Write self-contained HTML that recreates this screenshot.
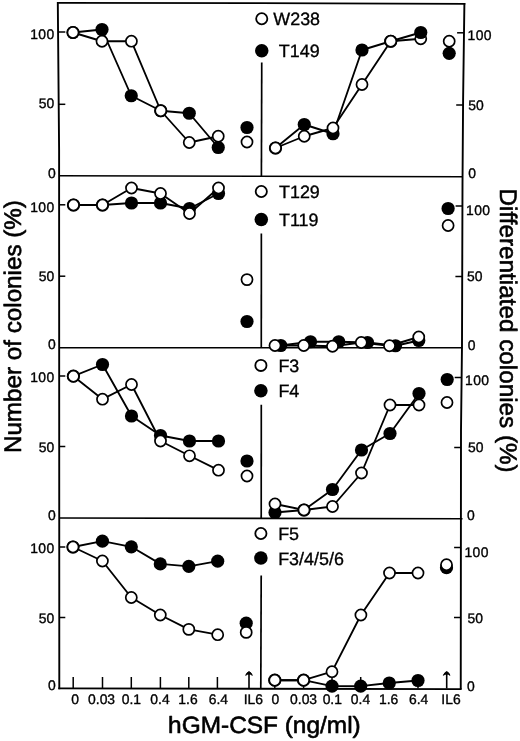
<!DOCTYPE html>
<html><head><meta charset="utf-8"><title>Figure</title>
<style>
html,body{margin:0;padding:0;background:#fff;}
body{width:520px;height:741px;overflow:hidden;font-family:"Liberation Sans", sans-serif;}
svg{display:block;will-change:transform;}
text{text-rendering:geometricPrecision;stroke:#000;stroke-width:0.35px;stroke-linejoin:round;}
</style></head><body>
<svg width="520" height="741" viewBox="0 0 520 741" font-family='"Liberation Sans", sans-serif' fill="#000">
<rect width="520" height="741" fill="#fff"/>
<polyline points="57.8,2.0 59.1,150 59.3,689.2" fill="none" stroke="#000" stroke-width="1.9"/>
<polyline points="58.1,2.9 260,3.2 465.3,3.9" fill="none" stroke="#000" stroke-width="1.7"/>
<polyline points="464.4,3 463.1,100 462.5,185 462,345 461,430 460.75,689.3" fill="none" stroke="#000" stroke-width="1.9"/>
<polyline points="58.3,688.4 461.6,689.1" fill="none" stroke="#000" stroke-width="1.8"/>
<line x1="59" y1="175.8" x2="462.5" y2="176.8" stroke="#000" stroke-width="1.6"/>
<line x1="59" y1="347.8" x2="462.5" y2="347.7" stroke="#000" stroke-width="1.6"/>
<line x1="59" y1="518.0" x2="462.5" y2="518.8" stroke="#000" stroke-width="1.6"/>
<line x1="261.75" y1="62.5" x2="261.4" y2="176.0" stroke="#000" stroke-width="1.7"/>
<line x1="261.35" y1="233.5" x2="261.3" y2="347.7" stroke="#000" stroke-width="1.7"/>
<line x1="261.3" y1="404.8" x2="261.2" y2="518.4" stroke="#000" stroke-width="1.7"/>
<line x1="261.2" y1="575.4" x2="260.8" y2="688.5" stroke="#000" stroke-width="1.7"/>
<line x1="59" y1="32" x2="65.3" y2="32" stroke="#000" stroke-width="1.5"/>
<line x1="59" y1="104.3" x2="65.3" y2="104.3" stroke="#000" stroke-width="1.5"/>
<line x1="59" y1="204.8" x2="65.3" y2="204.8" stroke="#000" stroke-width="1.5"/>
<line x1="59" y1="276.2" x2="65.3" y2="276.2" stroke="#000" stroke-width="1.5"/>
<line x1="59" y1="376" x2="65.3" y2="376" stroke="#000" stroke-width="1.5"/>
<line x1="59" y1="446.5" x2="65.3" y2="446.5" stroke="#000" stroke-width="1.5"/>
<line x1="59" y1="547" x2="65.3" y2="547" stroke="#000" stroke-width="1.5"/>
<line x1="59" y1="617.5" x2="65.3" y2="617.5" stroke="#000" stroke-width="1.5"/>
<text x="54.60" y="38.80" font-size="13.9" text-anchor="end" letter-spacing="0.4">100</text>
<text x="54.20" y="108.30" font-size="13.9" text-anchor="end" >50</text>
<text x="54.60" y="211.80" font-size="13.9" text-anchor="end" letter-spacing="0.4">100</text>
<text x="54.20" y="280.50" font-size="13.9" text-anchor="end" >50</text>
<text x="54.60" y="382.30" font-size="13.9" text-anchor="end" letter-spacing="0.4">100</text>
<text x="54.20" y="451.80" font-size="13.9" text-anchor="end" >50</text>
<text x="54.60" y="553.30" font-size="13.9" text-anchor="end" letter-spacing="0.4">100</text>
<text x="54.20" y="622.80" font-size="13.9" text-anchor="end" >50</text>
<text x="55.80" y="177.80" font-size="13.9" text-anchor="end" >0</text>
<text x="55.80" y="349.00" font-size="13.9" text-anchor="end" >0</text>
<text x="55.80" y="519.80" font-size="13.9" text-anchor="end" >0</text>
<text x="55.80" y="690.30" font-size="13.9" text-anchor="end" >0</text>
<line x1="457.09999999999997" y1="32.8" x2="463.9" y2="32.8" stroke="#000" stroke-width="1.5"/>
<line x1="456.2" y1="105" x2="463" y2="105" stroke="#000" stroke-width="1.5"/>
<line x1="455.59999999999997" y1="206" x2="462.4" y2="206" stroke="#000" stroke-width="1.5"/>
<line x1="455.4" y1="276.5" x2="462.2" y2="276.5" stroke="#000" stroke-width="1.5"/>
<line x1="454.7" y1="377.5" x2="461.5" y2="377.5" stroke="#000" stroke-width="1.5"/>
<line x1="454.2" y1="447.5" x2="461" y2="447.5" stroke="#000" stroke-width="1.5"/>
<line x1="454.09999999999997" y1="547.5" x2="460.9" y2="547.5" stroke="#000" stroke-width="1.5"/>
<line x1="454.0" y1="617.5" x2="460.8" y2="617.5" stroke="#000" stroke-width="1.5"/>
<text x="467.50" y="40.40" font-size="13.9" text-anchor="start" letter-spacing="0.4">100</text>
<text x="468.30" y="109.90" font-size="13.9" text-anchor="start" >50</text>
<text x="468.30" y="178.40" font-size="13.9" text-anchor="start" >0</text>
<text x="466.00" y="215.10" font-size="13.9" text-anchor="start" letter-spacing="0.4">100</text>
<text x="467.10" y="281.30" font-size="13.9" text-anchor="start" >50</text>
<text x="467.80" y="350.30" font-size="13.9" text-anchor="start" >0</text>
<text x="465.00" y="384.50" font-size="13.9" text-anchor="start" letter-spacing="0.4">100</text>
<text x="468.00" y="452.10" font-size="13.9" text-anchor="start" >50</text>
<text x="467.00" y="520.10" font-size="13.9" text-anchor="start" >0</text>
<text x="464.40" y="557.10" font-size="13.9" text-anchor="start" letter-spacing="0.4">100</text>
<text x="467.50" y="622.50" font-size="13.9" text-anchor="start" >50</text>
<text x="467.00" y="691.10" font-size="13.9" text-anchor="start" >0</text>
<line x1="73.2" y1="677" x2="73.2" y2="688.5" stroke="#000" stroke-width="1.5"/>
<line x1="102.5" y1="677" x2="102.5" y2="688.5" stroke="#000" stroke-width="1.5"/>
<line x1="131.29999999999998" y1="677" x2="131.29999999999998" y2="688.5" stroke="#000" stroke-width="1.5"/>
<line x1="160.39999999999998" y1="677" x2="160.39999999999998" y2="688.5" stroke="#000" stroke-width="1.5"/>
<line x1="188.79999999999998" y1="677" x2="188.79999999999998" y2="688.5" stroke="#000" stroke-width="1.5"/>
<line x1="217.39999999999998" y1="677" x2="217.39999999999998" y2="688.5" stroke="#000" stroke-width="1.5"/>
<line x1="274.8" y1="677" x2="274.8" y2="688.5" stroke="#000" stroke-width="1.5"/>
<line x1="303.6" y1="677" x2="303.6" y2="688.5" stroke="#000" stroke-width="1.5"/>
<line x1="332.0" y1="677" x2="332.0" y2="688.5" stroke="#000" stroke-width="1.5"/>
<line x1="360.7" y1="677" x2="360.7" y2="688.5" stroke="#000" stroke-width="1.5"/>
<line x1="389.3" y1="677" x2="389.3" y2="688.5" stroke="#000" stroke-width="1.5"/>
<line x1="418.0" y1="677" x2="418.0" y2="688.5" stroke="#000" stroke-width="1.5"/>
<line x1="249.0" y1="672.3" x2="249.0" y2="688.5" stroke="#000" stroke-width="1.6"/>
<path d="M245.7,675.3 Q247.0,672.1 249.0,671.6 Q251.0,672.1 252.3,675.3 Q250.6,674.0 249.0,674.0 Q247.4,674.0 245.7,675.3 Z" fill="#000" stroke="#000" stroke-width="1.0" stroke-linejoin="round"/>
<line x1="446.7" y1="672.3" x2="446.7" y2="688.5" stroke="#000" stroke-width="1.6"/>
<path d="M443.4,675.3 Q444.7,672.1 446.7,671.6 Q448.7,672.1 450.0,675.3 Q448.3,674.0 446.7,674.0 Q445.09999999999997,674.0 443.4,675.3 Z" fill="#000" stroke="#000" stroke-width="1.0" stroke-linejoin="round"/>
<text x="75.00" y="703.80" font-size="13.9" text-anchor="middle" >0</text>
<text x="101.60" y="703.80" font-size="13.9" text-anchor="middle" >0.03</text>
<text x="131.40" y="703.80" font-size="13.9" text-anchor="middle" >0.1</text>
<text x="160.00" y="703.80" font-size="13.9" text-anchor="middle" >0.4</text>
<text x="188.00" y="703.80" font-size="13.9" text-anchor="middle" >1.6</text>
<text x="218.40" y="703.80" font-size="13.9" text-anchor="middle" >6.4</text>
<text x="253.30" y="703.80" font-size="13.9" text-anchor="middle" >IL6</text>
<text x="275.30" y="703.80" font-size="13.9" text-anchor="middle" >0</text>
<text x="303.60" y="703.80" font-size="13.9" text-anchor="middle" >0.03</text>
<text x="332.30" y="703.80" font-size="13.9" text-anchor="middle" >0.1</text>
<text x="360.50" y="703.80" font-size="13.9" text-anchor="middle" >0.4</text>
<text x="388.60" y="703.80" font-size="13.9" text-anchor="middle" >1.6</text>
<text x="418.70" y="703.80" font-size="13.9" text-anchor="middle" >6.4</text>
<text x="451.00" y="703.80" font-size="13.9" text-anchor="middle" >IL6</text>
<text x="0.00" y="0.00" font-size="23.5" text-anchor="middle" transform="translate(264.4,732.5)" textLength="192.6" lengthAdjust="spacingAndGlyphs" style="stroke-width:0.6px">hGM-CSF (ng/ml)</text>
<text x="0.00" y="0.00" font-size="24" text-anchor="middle" transform="translate(21,326.6) rotate(-90)" textLength="253" lengthAdjust="spacingAndGlyphs" style="stroke-width:0.6px">Number of colonies (%)</text>
<text x="0.00" y="0.00" font-size="24" text-anchor="middle" transform="translate(499.6,330.6) rotate(90)" textLength="284" lengthAdjust="spacingAndGlyphs" style="stroke-width:0.6px">Differentiated colonies (%)</text>
<circle cx="261.75" cy="18.75" r="5.6" fill="#fff" stroke="#000" stroke-width="1.8"/>
<text x="273.30" y="25.10" font-size="17.9" text-anchor="start" >W238</text>
<circle cx="261.75" cy="50.75" r="6.75" fill="#000"/>
<text x="278.80" y="57.10" font-size="17.9" text-anchor="start" >T149</text>
<circle cx="261.3" cy="191.5" r="5.6" fill="#fff" stroke="#000" stroke-width="1.8"/>
<text x="279.00" y="198.00" font-size="17.9" text-anchor="start" >T129</text>
<circle cx="261.3" cy="219.6" r="6.75" fill="#000"/>
<text x="279.00" y="226.30" font-size="17.9" text-anchor="start" >T119</text>
<circle cx="260.9" cy="365.4" r="5.6" fill="#fff" stroke="#000" stroke-width="1.8"/>
<text x="278.40" y="372.20" font-size="17.9" text-anchor="start" >F3</text>
<circle cx="260.9" cy="390.8" r="6.75" fill="#000"/>
<text x="278.40" y="397.20" font-size="17.9" text-anchor="start" >F4</text>
<circle cx="260.9" cy="533.5" r="5.6" fill="#fff" stroke="#000" stroke-width="1.8"/>
<text x="278.20" y="539.90" font-size="17.9" text-anchor="start" >F5</text>
<circle cx="260.9" cy="558.1" r="6.75" fill="#000"/>
<text x="278.20" y="564.90" font-size="17.9" text-anchor="start" >F3/4/5/6</text>
<polyline points="73.00,32.50 102.00,29.50 131.25,95.75 160.75,110.75 189.25,113.25 218.25,147.50" fill="none" stroke="#000" stroke-width="1.85" stroke-linejoin="round"/>
<polyline points="73.00,32.50 102.00,41.25 131.40,41.20 160.75,110.75 189.25,142.50 218.25,136.25" fill="none" stroke="#000" stroke-width="1.85" stroke-linejoin="round"/>
<circle cx="73.00" cy="32.50" r="6.6" fill="#000"/>
<circle cx="102.00" cy="29.50" r="6.6" fill="#000"/>
<circle cx="131.25" cy="95.75" r="6.6" fill="#000"/>
<circle cx="160.75" cy="110.75" r="6.6" fill="#000"/>
<circle cx="189.25" cy="113.25" r="6.6" fill="#000"/>
<circle cx="218.25" cy="147.50" r="6.6" fill="#000"/>
<circle cx="247.00" cy="127.50" r="6.6" fill="#000"/>
<circle cx="73.00" cy="32.50" r="5.55" fill="#fff" stroke="#000" stroke-width="1.7"/>
<circle cx="102.00" cy="41.25" r="5.55" fill="#fff" stroke="#000" stroke-width="1.7"/>
<circle cx="131.40" cy="41.20" r="5.55" fill="#fff" stroke="#000" stroke-width="1.7"/>
<circle cx="160.75" cy="110.75" r="5.55" fill="#fff" stroke="#000" stroke-width="1.7"/>
<circle cx="189.25" cy="142.50" r="5.55" fill="#fff" stroke="#000" stroke-width="1.7"/>
<circle cx="218.25" cy="136.25" r="5.55" fill="#fff" stroke="#000" stroke-width="1.7"/>
<circle cx="247.00" cy="142.00" r="5.55" fill="#fff" stroke="#000" stroke-width="1.7"/>
<polyline points="275.50,148.00 304.25,124.50 333.00,133.75 362.00,50.00 390.75,41.25 420.75,32.50" fill="none" stroke="#000" stroke-width="1.85" stroke-linejoin="round"/>
<polyline points="275.50,148.00 304.25,136.25 333.00,128.00 362.00,84.50 390.75,41.25 420.75,38.75" fill="none" stroke="#000" stroke-width="1.85" stroke-linejoin="round"/>
<circle cx="275.50" cy="148.00" r="6.6" fill="#000"/>
<circle cx="304.25" cy="124.50" r="6.6" fill="#000"/>
<circle cx="333.00" cy="133.75" r="6.6" fill="#000"/>
<circle cx="362.00" cy="50.00" r="6.6" fill="#000"/>
<circle cx="390.75" cy="41.25" r="6.6" fill="#000"/>
<circle cx="275.50" cy="148.00" r="5.55" fill="#fff" stroke="#000" stroke-width="1.7"/>
<circle cx="304.25" cy="136.25" r="5.55" fill="#fff" stroke="#000" stroke-width="1.7"/>
<circle cx="333.00" cy="128.00" r="5.55" fill="#fff" stroke="#000" stroke-width="1.7"/>
<circle cx="362.00" cy="84.50" r="5.55" fill="#fff" stroke="#000" stroke-width="1.7"/>
<circle cx="390.75" cy="41.25" r="5.55" fill="#fff" stroke="#000" stroke-width="1.7"/>
<circle cx="420.75" cy="38.75" r="5.55" fill="#fff" stroke="#000" stroke-width="1.7"/>
<circle cx="449.20" cy="41.20" r="5.55" fill="#fff" stroke="#000" stroke-width="1.7"/>
<circle cx="420.75" cy="32.50" r="6.6" fill="#000"/>
<circle cx="449.20" cy="53.30" r="6.6" fill="#000"/>
<polyline points="73.50,205.00 102.50,205.00 131.50,203.00 160.50,203.00 189.50,208.50 218.50,193.50" fill="none" stroke="#000" stroke-width="1.85" stroke-linejoin="round"/>
<polyline points="73.50,205.00 102.50,205.00 131.50,188.00 160.50,193.50 189.50,213.50 218.50,188.00" fill="none" stroke="#000" stroke-width="1.85" stroke-linejoin="round"/>
<circle cx="73.50" cy="205.00" r="6.6" fill="#000"/>
<circle cx="102.50" cy="205.00" r="6.6" fill="#000"/>
<circle cx="131.50" cy="203.00" r="6.6" fill="#000"/>
<circle cx="160.50" cy="203.00" r="6.6" fill="#000"/>
<circle cx="189.50" cy="208.50" r="6.6" fill="#000"/>
<circle cx="218.50" cy="193.50" r="6.6" fill="#000"/>
<circle cx="247.00" cy="321.50" r="6.6" fill="#000"/>
<circle cx="73.50" cy="205.00" r="5.55" fill="#fff" stroke="#000" stroke-width="1.7"/>
<circle cx="102.50" cy="205.00" r="5.55" fill="#fff" stroke="#000" stroke-width="1.7"/>
<circle cx="131.50" cy="188.00" r="5.55" fill="#fff" stroke="#000" stroke-width="1.7"/>
<circle cx="160.50" cy="193.50" r="5.55" fill="#fff" stroke="#000" stroke-width="1.7"/>
<circle cx="189.50" cy="213.50" r="5.55" fill="#fff" stroke="#000" stroke-width="1.7"/>
<circle cx="218.50" cy="188.00" r="5.55" fill="#fff" stroke="#000" stroke-width="1.7"/>
<circle cx="247.00" cy="279.60" r="5.55" fill="#fff" stroke="#000" stroke-width="1.7"/>
<polyline points="280.75,345.50 310.50,341.75 338.75,341.75 367.50,342.50 395.50,345.75 418.75,340.50" fill="none" stroke="#000" stroke-width="1.85" stroke-linejoin="round"/>
<polyline points="275.00,345.50 303.75,345.50 332.50,346.25 361.25,342.50 389.50,345.75 418.75,337.00" fill="none" stroke="#000" stroke-width="1.85" stroke-linejoin="round"/>
<circle cx="280.75" cy="345.50" r="6.6" fill="#000"/>
<circle cx="310.50" cy="341.75" r="6.6" fill="#000"/>
<circle cx="338.75" cy="341.75" r="6.6" fill="#000"/>
<circle cx="367.50" cy="342.50" r="6.6" fill="#000"/>
<circle cx="395.50" cy="345.75" r="6.6" fill="#000"/>
<circle cx="418.75" cy="340.50" r="6.6" fill="#000"/>
<circle cx="448.10" cy="208.50" r="6.6" fill="#000"/>
<circle cx="275.00" cy="345.50" r="5.55" fill="#fff" stroke="#000" stroke-width="1.7"/>
<circle cx="303.75" cy="345.50" r="5.55" fill="#fff" stroke="#000" stroke-width="1.7"/>
<circle cx="332.50" cy="346.25" r="5.55" fill="#fff" stroke="#000" stroke-width="1.7"/>
<circle cx="361.25" cy="342.50" r="5.55" fill="#fff" stroke="#000" stroke-width="1.7"/>
<circle cx="389.50" cy="345.75" r="5.55" fill="#fff" stroke="#000" stroke-width="1.7"/>
<circle cx="418.75" cy="337.00" r="5.55" fill="#fff" stroke="#000" stroke-width="1.7"/>
<circle cx="448.10" cy="225.50" r="5.55" fill="#fff" stroke="#000" stroke-width="1.7"/>
<polyline points="73.40,376.20 102.50,364.50 131.50,416.00 160.50,435.50 189.50,441.00 218.50,441.00" fill="none" stroke="#000" stroke-width="1.85" stroke-linejoin="round"/>
<polyline points="73.40,376.20 102.50,399.20 131.50,384.50 160.50,441.00 189.50,455.80 218.50,470.20" fill="none" stroke="#000" stroke-width="1.85" stroke-linejoin="round"/>
<circle cx="73.40" cy="376.20" r="6.6" fill="#000"/>
<circle cx="102.50" cy="364.50" r="6.6" fill="#000"/>
<circle cx="131.50" cy="416.00" r="6.6" fill="#000"/>
<circle cx="160.50" cy="435.50" r="6.6" fill="#000"/>
<circle cx="189.50" cy="441.00" r="6.6" fill="#000"/>
<circle cx="218.50" cy="441.00" r="6.6" fill="#000"/>
<circle cx="247.00" cy="461.00" r="6.6" fill="#000"/>
<circle cx="73.40" cy="376.20" r="5.55" fill="#fff" stroke="#000" stroke-width="1.7"/>
<circle cx="102.50" cy="399.20" r="5.55" fill="#fff" stroke="#000" stroke-width="1.7"/>
<circle cx="131.50" cy="384.50" r="5.55" fill="#fff" stroke="#000" stroke-width="1.7"/>
<circle cx="160.50" cy="441.00" r="5.55" fill="#fff" stroke="#000" stroke-width="1.7"/>
<circle cx="189.50" cy="455.80" r="5.55" fill="#fff" stroke="#000" stroke-width="1.7"/>
<circle cx="218.50" cy="470.20" r="5.55" fill="#fff" stroke="#000" stroke-width="1.7"/>
<circle cx="247.00" cy="476.00" r="5.55" fill="#fff" stroke="#000" stroke-width="1.7"/>
<polyline points="275.00,512.50 304.00,510.00 332.50,489.50 361.50,450.00 390.00,433.50 419.00,393.50" fill="none" stroke="#000" stroke-width="1.85" stroke-linejoin="round"/>
<polyline points="275.00,504.00 304.00,510.00 332.50,506.50 361.50,473.00 390.00,405.00 419.00,405.00" fill="none" stroke="#000" stroke-width="1.85" stroke-linejoin="round"/>
<circle cx="275.00" cy="512.50" r="6.6" fill="#000"/>
<circle cx="304.00" cy="510.00" r="6.6" fill="#000"/>
<circle cx="332.50" cy="489.50" r="6.6" fill="#000"/>
<circle cx="361.50" cy="450.00" r="6.6" fill="#000"/>
<circle cx="390.00" cy="433.50" r="6.6" fill="#000"/>
<circle cx="419.00" cy="393.50" r="6.6" fill="#000"/>
<circle cx="447.20" cy="379.50" r="6.6" fill="#000"/>
<circle cx="275.00" cy="504.00" r="5.55" fill="#fff" stroke="#000" stroke-width="1.7"/>
<circle cx="304.00" cy="510.00" r="5.55" fill="#fff" stroke="#000" stroke-width="1.7"/>
<circle cx="332.50" cy="506.50" r="5.55" fill="#fff" stroke="#000" stroke-width="1.7"/>
<circle cx="361.50" cy="473.00" r="5.55" fill="#fff" stroke="#000" stroke-width="1.7"/>
<circle cx="390.00" cy="405.00" r="5.55" fill="#fff" stroke="#000" stroke-width="1.7"/>
<circle cx="419.00" cy="405.00" r="5.55" fill="#fff" stroke="#000" stroke-width="1.7"/>
<circle cx="447.00" cy="402.50" r="5.55" fill="#fff" stroke="#000" stroke-width="1.7"/>
<polyline points="73.00,547.00 102.40,541.20 131.30,546.80 160.30,563.90 188.80,566.30 217.70,561.20" fill="none" stroke="#000" stroke-width="1.85" stroke-linejoin="round"/>
<polyline points="73.00,547.00 102.40,561.00 131.30,597.50 160.30,615.00 188.80,629.40 217.70,634.70" fill="none" stroke="#000" stroke-width="1.85" stroke-linejoin="round"/>
<circle cx="73.00" cy="547.00" r="6.6" fill="#000"/>
<circle cx="102.40" cy="541.20" r="6.6" fill="#000"/>
<circle cx="131.30" cy="546.80" r="6.6" fill="#000"/>
<circle cx="160.30" cy="563.90" r="6.6" fill="#000"/>
<circle cx="188.80" cy="566.30" r="6.6" fill="#000"/>
<circle cx="217.70" cy="561.20" r="6.6" fill="#000"/>
<circle cx="246.20" cy="623.20" r="6.6" fill="#000"/>
<circle cx="73.00" cy="547.00" r="5.55" fill="#fff" stroke="#000" stroke-width="1.7"/>
<circle cx="102.40" cy="561.00" r="5.55" fill="#fff" stroke="#000" stroke-width="1.7"/>
<circle cx="131.30" cy="597.50" r="5.55" fill="#fff" stroke="#000" stroke-width="1.7"/>
<circle cx="160.30" cy="615.00" r="5.55" fill="#fff" stroke="#000" stroke-width="1.7"/>
<circle cx="188.80" cy="629.40" r="5.55" fill="#fff" stroke="#000" stroke-width="1.7"/>
<circle cx="217.70" cy="634.70" r="5.55" fill="#fff" stroke="#000" stroke-width="1.7"/>
<circle cx="246.20" cy="632.40" r="5.55" fill="#fff" stroke="#000" stroke-width="1.7"/>
<polyline points="274.80,680.20 303.60,680.20 332.00,686.10 360.70,686.20 389.25,683.00 418.00,680.50" fill="none" stroke="#000" stroke-width="1.85" stroke-linejoin="round"/>
<polyline points="274.80,680.20 303.60,680.20 332.00,671.70 360.90,615.00 389.50,573.00 418.00,573.00" fill="none" stroke="#000" stroke-width="1.85" stroke-linejoin="round"/>
<circle cx="274.80" cy="680.20" r="6.6" fill="#000"/>
<circle cx="303.60" cy="680.20" r="6.6" fill="#000"/>
<circle cx="332.00" cy="686.10" r="6.6" fill="#000"/>
<circle cx="360.70" cy="686.20" r="6.6" fill="#000"/>
<circle cx="389.25" cy="683.00" r="6.6" fill="#000"/>
<circle cx="418.00" cy="680.50" r="6.6" fill="#000"/>
<circle cx="446.50" cy="567.70" r="6.6" fill="#000"/>
<circle cx="274.80" cy="680.20" r="5.55" fill="#fff" stroke="#000" stroke-width="1.7"/>
<circle cx="303.60" cy="680.20" r="5.55" fill="#fff" stroke="#000" stroke-width="1.7"/>
<circle cx="332.00" cy="671.70" r="5.55" fill="#fff" stroke="#000" stroke-width="1.7"/>
<circle cx="360.90" cy="615.00" r="5.55" fill="#fff" stroke="#000" stroke-width="1.7"/>
<circle cx="389.50" cy="573.00" r="5.55" fill="#fff" stroke="#000" stroke-width="1.7"/>
<circle cx="418.00" cy="573.00" r="5.55" fill="#fff" stroke="#000" stroke-width="1.7"/>
<circle cx="446.50" cy="564.70" r="5.55" fill="#fff" stroke="#000" stroke-width="1.7"/>
</svg>
</body></html>
